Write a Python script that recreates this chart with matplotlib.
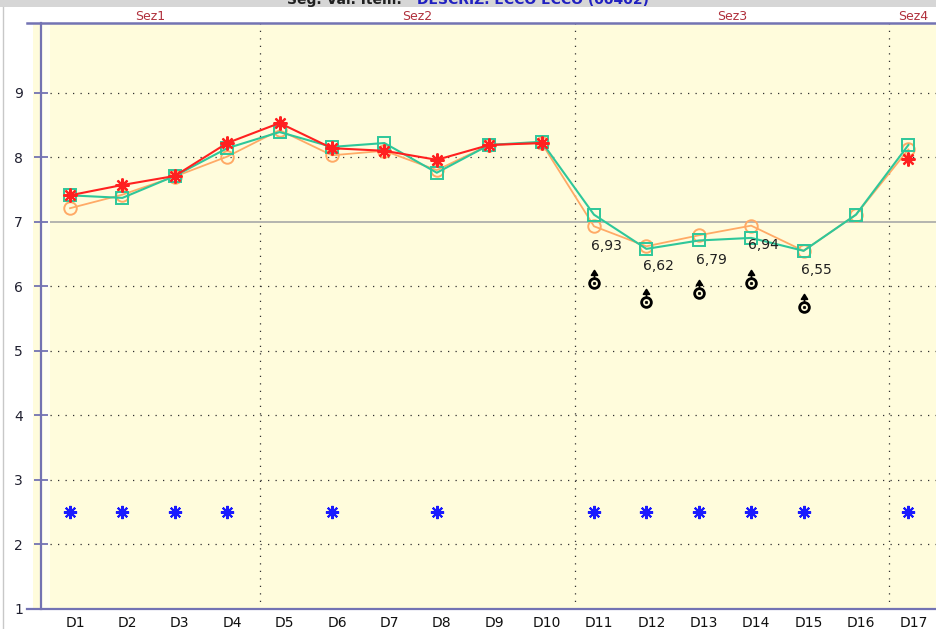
import numpy as np
import matplotlib
matplotlib.use("Agg")
import matplotlib.pyplot as plt
from matplotlib.path import Path
from matplotlib.lines import Line2D
import matplotlib.transforms as mtransforms

# ---------------- data ----------------
categories = ["D1", "D2", "D3", "D4", "D5", "D6", "D7", "D8", "D9", "D10",
              "D11", "D12", "D13", "D14", "D15", "D16", "D17"]
red_vals = [7.41, 7.57, 7.71, 8.22, 8.53, 8.14, 8.10, 7.96, 8.19, 8.22,
            np.nan, np.nan, np.nan, np.nan, np.nan, np.nan, 7.98]
green_vals = [7.41, 7.37, 7.71, 8.14, 8.39, 8.16, 8.22, 7.76, 8.19, 8.24,
              7.11, 6.58, 6.71, 6.75, 6.55, 7.11, 8.19]
orange_vals = [7.21, 7.42, 7.70, 8.01, 8.42, 8.03, 8.10, 7.80, 8.19, 8.22,
               6.93, 6.62, 6.79, 6.94, 6.55, 7.11, 8.12]
label_idx = [10, 11, 12, 13, 14]
label_texts = ["6,93", "6,62", "6,79", "6,94", "6,55"]
sym_idx = [10, 11, 12, 13, 14]
sym_vals = [6.05, 5.75, 5.90, 6.05, 5.68]
blue_idx = [0, 1, 2, 3, 5, 7, 10, 11, 12, 13, 14, 16]
blue_val = 2.5
sections = ["Sez1", "Sez2", "Sez3", "Sez4"]
section_bounds = [0.447, 4.63, 10.64, 16.63, 17.546]
ref_line = 7
yticks = [1, 2, 3, 4, 5, 6, 7, 8, 9]

# ---------------- figure ----------------
W, H = 937, 629
fig = plt.figure(figsize=(W / 100, H / 100), dpi=100)
fig.patch.set_facecolor("white")

ax_l, ax_r, ax_t, ax_b = 33, 937, 23, 609
ax = fig.add_axes([ax_l / W, 1 - ax_b / H, (ax_r - ax_l) / W, (ax_b - ax_t) / H])
ax.set_facecolor("#fffcdc")

x = np.arange(1, len(categories) + 1)
ax.set_xlim(0.294, 17.546)
ax.set_ylim(1, 10.08)

axis_col = "#7373b3"
# pale stripe to the right of the y axis
ax.axvspan(0.447, 0.62, color="#fffff2", zorder=0.5, lw=0)

# grid
for yv in yticks[1:]:
    if yv == ref_line:
        ax.hlines(yv, 0.62, 17.546, colors="#a8a8a8", lw=1.2, zorder=1)
    else:
        ax.hlines(yv, 0.62, 17.546, colors="#303030", lw=0.9,
                  linestyles=(0, (1, 5)), zorder=1)
for xb in section_bounds[1:-1]:
    ax.vlines(xb, 1, 10.08, colors="#303030", lw=0.9,
              linestyles=(0, (1, 5)), zorder=1)

# series
ax.plot(x, orange_vals, color="#ffaa66", lw=1.3, marker="o", ms=9,
        mfc="none", mec="#ffaa66", mew=1.4, zorder=3)
ax.plot(x, green_vals, color="#2ec79a", lw=1.5, marker="s", ms=9,
        mfc="none", mec="#2ec79a", mew=1.4, zorder=4)
ax.plot(x, red_vals, color="#ff2020", lw=1.5, marker=(8, 2, 0), ms=10,
        mec="#ff2020", mew=1.6, zorder=5)

# blue asterisks
bx = [x[i] for i in blue_idx]
ax.plot(bx, [blue_val] * len(bx), ls="none", marker=(8, 2, 0), ms=9.5,
        mec="#1a1aff", mew=1.5, zorder=5)

# data labels
for i, t in zip(label_idx, label_texts):
    ax.annotate(t, (x[i], orange_vals[i]),
                xytext=(9, -14 if t != "6,79" else -18), textcoords="offset points",
                ha="center", va="center", fontsize=10, color="#202020", zorder=6)

# black circle-with-arrow symbols
arrow_path = Path([(0, 4.5), (0, 9.5), (-3.0, 8.2), (3.0, 8.2), (0, 13), (-3.0, 8.2)],
                  [Path.MOVETO, Path.LINETO, Path.MOVETO, Path.LINETO, Path.LINETO,
                   Path.CLOSEPOLY])
sx = [x[i] for i in sym_idx]
ax.plot(sx, sym_vals, ls="none", marker=arrow_path, ms=18.7, mfc="black",
        mec="black", mew=1.2, zorder=6)
ax.plot(sx, sym_vals, ls="none", marker="o", ms=7, mfc="#fffcdc",
        mec="black", mew=2.0, zorder=6)
ax.plot(sx, sym_vals, ls="none", marker="o", ms=1.8, mfc="black",
        mec="black", mew=0.5, zorder=7)

# axes styling
for s in ["top", "right", "bottom"]:
    ax.spines[s].set_visible(False)
ax.spines["left"].set_position(("data", 0.447))
ax.spines["left"].set_color(axis_col)
ax.spines["left"].set_linewidth(1.6)
ax.set_yticks(yticks)
ax.set_yticklabels([str(v) for v in yticks])
ax.tick_params(axis="y", direction="inout", length=10, width=1.3,
               color=axis_col, labelsize=10, labelcolor="#202030", pad=8)
ax.set_xticks(x)
ax.set_xticklabels(categories)
ax.tick_params(axis="x", length=0, labelsize=10, labelcolor="#101010", pad=5)
offset = mtransforms.ScaledTranslation(5 / 100, 0, fig.dpi_scale_trans)
for lab in ax.get_xticklabels():
    lab.set_transform(lab.get_transform() + offset)

# frame lines (top / bottom) across the figure
fig.add_artist(Line2D([27 / W, 1], [1 - ax_b / H] * 2, color=axis_col, lw=1.6))
fig.add_artist(Line2D([27 / W, 1], [1 - ax_t / H] * 2, color=axis_col, lw=1.8))
fig.add_artist(Line2D([3.5 / W] * 2, [0, 1 - 7 / H], color="#c8c8c8", lw=1.0))

# section labels
for name, a, b in zip(sections, section_bounds[:-1], section_bounds[1:]):
    ax.text((a + b) / 2, 1 - 17 / H, name,
            transform=mtransforms.blended_transform_factory(ax.transData, fig.transFigure),
            ha="center", va="center", fontsize=9, color="#b0303c")

# header band with clipped title
fig.add_artist(plt.Rectangle((0, 1 - 7 / H), 1, 7 / H, transform=fig.transFigure,
                             color="#d6d6d6", lw=0))
fig.text(287 / W, 1 - 4 / H, "Seg. Val. Item:", ha="left", va="baseline",
         fontsize=10, fontweight="bold", color="#202020")
fig.text(417 / W, 1 - 4 / H, "DESCRIZ. ECCO ECCO (00402)", ha="left",
         va="baseline", fontsize=10, fontweight="bold", color="#2020c0")

fig.savefig("out.png", dpi=100)
